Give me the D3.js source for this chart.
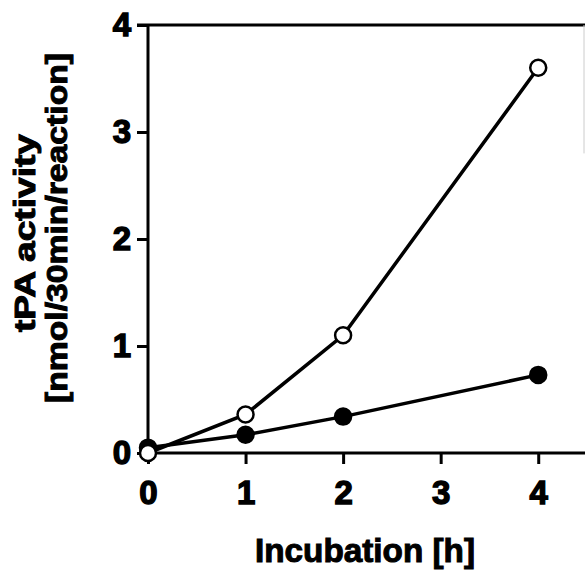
<!DOCTYPE html>
<html>
<head>
<meta charset="utf-8">
<script src="https://cdn.jsdelivr.net/npm/d3@7"></script>
<style>
  body { margin: 0; background: #fff; }
  text { font-family: "Liberation Sans", Arial, sans-serif; font-weight: bold; fill: #000; }
</style>
</head>
<body>
<div id="svg"></div>
<script>
/*
 * Values.
 */
var hours = [0, 1, 2, 4]
  , openValues = [0, 0.36, 1.10, 3.60]
  , filledValues = [0.05, 0.17, 0.34, 0.73]
  , xTicks = [0, 1, 2, 3, 4]
  , yTicks = [0, 1, 2, 3, 4]
  , xTitle = 'Incubation [h]'
  , yTitle = ['tPA activity', '[nmol/30min/reaction]']
  , width = 585
  , height = 572;


/*
 * Set up the svg and the scales.
 */
var svg = d3.select('#svg').append('svg')
  .attr('width', width)
  .attr('height', height);

var x = d3.scaleLinear().domain([0, 4.5]).range([148, 587]);
var y = d3.scaleLinear().domain([0, 4]).range([453, 25]);


/*
 * Axes
 */
var xAxis = svg.append('g')
  .attr('transform', 'translate(0,' + y(0) + ')')
  .call(d3.axisBottom(x).tickValues(xTicks).tickSize(11).tickPadding(17).tickFormat(d3.format('d')));

var yAxis = svg.append('g')
  .attr('transform', 'translate(' + x(0) + ',0)')
  .call(d3.axisLeft(y).tickValues(yTicks).tickSize(11).tickPadding(6).tickFormat(d3.format('d')));

[xAxis, yAxis].forEach(function(a) {
  a.attr('font-size', 33);
  a.select('.domain').attr('stroke', '#000').attr('stroke-width', 3);
  a.selectAll('.tick line').attr('stroke', '#000').attr('stroke-width', 3);
  a.selectAll('.tick text')
    .style('font-size', '33px')
    .style('font-family', '"Liberation Sans", Arial, sans-serif')
    .style('font-weight', 'bold')
    .attr('fill', '#000')
    .attr('stroke', '#000')
    .attr('stroke-width', 1.4);
});
xAxis.select('.domain').attr('d', 'M' + x(0) + ',0H' + x(4.5));
yAxis.select('.domain').attr('d', 'M0,' + y(0) + 'V' + y(4));
xAxis.selectAll('.tick text').attr('dy', '0.71em');
yAxis.selectAll('.tick text').attr('dy', '0.33em');

// top border, continues the y=4 tick to the right
svg.append('line')
  .attr('x1', x(0) - 11).attr('x2', x(4.5))
  .attr('y1', y(4)).attr('y2', y(4))
  .attr('stroke', '#000').attr('stroke-width', 3);

// faint edge on the right
svg.append('line')
  .attr('x1', 584).attr('x2', 584)
  .attr('y1', y(4)).attr('y2', y(2.8))
  .attr('stroke', '#ccc').attr('stroke-width', 1);


/*
 * Series: filled first so the open one sits on top at 0.
 */
var line = d3.line()
  .x(function(d) { return x(d[0]); })
  .y(function(d) { return y(d[1]); });

[[filledValues, '#000'], [openValues, '#fff']].forEach(function(s) {
  var pts = d3.zip(hours, s[0]);

  svg.append('path')
    .datum(pts)
    .attr('d', line)
    .attr('fill', 'none')
    .attr('stroke', '#000')
    .attr('stroke-width', 3.5);

  svg.selectAll(null)
    .data(pts)
    .enter()
    .append('circle')
    .attr('cx', function(d) { return x(d[0]); })
    .attr('cy', function(d) { return y(d[1]); })
    .attr('r', 8)
    .attr('fill', s[1])
    .attr('stroke', '#000')
    .attr('stroke-width', 2.5);
});


/*
 * Axis titles
 */
svg.append('text')
  .attr('x', 365)
  .attr('y', 562)
  .attr('text-anchor', 'middle')
  .attr('textLength', 220)
  .attr('lengthAdjust', 'spacingAndGlyphs')
  .attr('stroke', '#000')
  .attr('stroke-width', 1)
  .style('font-size', '33px')
  .text(xTitle);

var titleX = [35, 67]
  , titleY = [233, 228]
  , titleLen = [198, 350];

yTitle.forEach(function(t, i) {
  svg.append('text')
    .attr('transform', 'translate(' + titleX[i] + ',' + titleY[i] + ') rotate(-90)')
    .attr('text-anchor', 'middle')
    .attr('textLength', titleLen[i])
    .attr('lengthAdjust', 'spacingAndGlyphs')
    .attr('stroke', '#000')
    .attr('stroke-width', 1)
    .style('font-size', '30px')
    .text(t);
});
</script>
</body>
</html>
